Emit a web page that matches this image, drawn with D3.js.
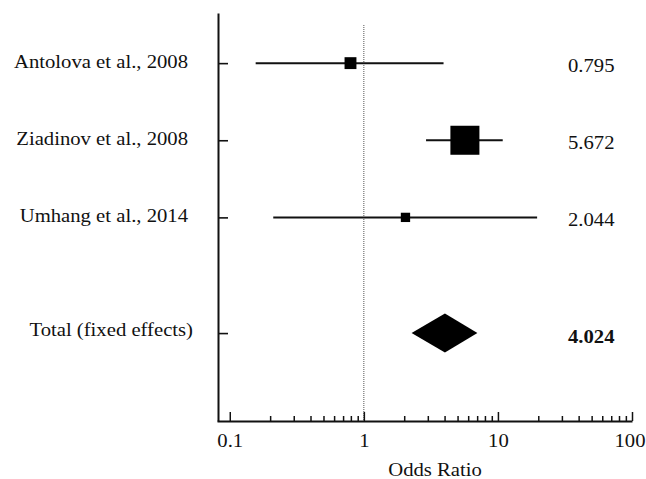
<!DOCTYPE html>
<html>
<head>
<meta charset="utf-8">
<script src="https://cdn.jsdelivr.net/npm/d3@7/dist/d3.min.js"></script>
<style>
  html, body { margin: 0; padding: 0; background: #fff; }
  svg { display: block; }
</style>
</head>
<body>
<svg id="chart" width="646" height="479"></svg>
<script>
// Forest plot: odds ratios with 95% CI per study, plus pooled fixed-effects estimate
const studies   = ["Antolova et al., 2008", "Ziadinov et al., 2008", "Umhang et al., 2014"];
const oddsRatio = [0.795, 5.672, 2.044];
const ciLower   = [0.156, 2.91, 0.211];
const ciUpper   = [3.93, 10.86, 19.6];
const weights   = [13.2, 78.7, 8.1];   // study weights (%)

const summaryLabel = "Total (fixed effects)";
const summaryOR    = 4.024;
const summaryLower = 2.27;
const summaryUpper = 7.03;

const xTickValues  = [0.1, 1, 10, 100];
const xTickLabels  = ["0.1", "1", "10", "100"];
const xMinorValues = [2,3,4,5,6,7,8,9].flatMap(m => [m * 0.1, m, m * 10]);
const xTitle = "Odds Ratio";

const svg = d3.select("#chart");
const FONT = 18, STRETCH = 1.15;
const SERIF = "'Liberation Serif', 'Times New Roman', Times, 'DejaVu Serif', serif";

// Apply the serif face and colour to a text selection
const styleText = sel => sel
  .style("font-family", SERIF)
  .style("font-size", FONT + "px")
  .style("fill", "#111");

// Row positions: one per study, the summary a half row further down
const rowPos = studies.map((d, i) => i + 1);
const summaryPos = studies.length + 1.5;

const x = d3.scaleLog().domain([0.0803, 100]).range([217, 632]);
const y = d3.scaleLinear().domain([0.35, 5.64]).range([13, 421]);
const size = d3.scaleSqrt().domain([0, 100]).range([0, 32.7]);

const yAxisX = 218, xAxisY = 421;

// Reference line at OR = 1
svg.append("line")
  .attr("x1", x(1)).attr("x2", x(1))
  .attr("y1", 25).attr("y2", xAxisY)
  .attr("stroke", "#555").attr("stroke-width", 1)
  .attr("stroke-dasharray", "1,1");

// Y axis (row ticks pointing right)
const yAxis = svg.append("g")
  .attr("transform", `translate(${yAxisX},0)`)
  .call(d3.axisRight(y).tickValues([...rowPos, summaryPos]).tickSize(10).tickSizeOuter(0).tickFormat(""));
yAxis.select(".domain").attr("stroke", "#111").attr("stroke-width", 2);
yAxis.selectAll(".tick line").attr("stroke", "#111").attr("stroke-width", 1.6);

// X axis: major ticks with labels, minor ticks shorter, all pointing up
const xAxis = svg.append("g")
  .attr("transform", `translate(0,${xAxisY})`)
  .call(d3.axisBottom(x).tickValues(xTickValues).tickSizeInner(-9).tickSizeOuter(0)
    .tickFormat((d, i) => xTickLabels[i]));
xAxis.select(".domain").attr("stroke", "#111").attr("stroke-width", 2);
xAxis.selectAll(".tick line").attr("stroke", "#111").attr("stroke-width", 1.5);
xAxis.selectAll(".tick text")
  .attr("y", 0).attr("dy", 0)
  .attr("transform", `translate(0,25.5) scale(${STRETCH},1)`)
  .call(styleText);
// keep the last label inside the right edge
xAxis.selectAll(".tick text").filter(d => d === 100)
  .attr("text-anchor", "end")
  .attr("transform", `translate(${646 - 1 - x(100)},25.5) scale(${STRETCH},1)`);

const xMinor = svg.append("g")
  .attr("transform", `translate(0,${xAxisY})`)
  .call(d3.axisBottom(x).tickValues(xMinorValues).tickSizeInner(-5).tickSizeOuter(0).tickFormat(""));
xMinor.select(".domain").remove();
xMinor.selectAll(".tick line").attr("stroke", "#111").attr("stroke-width", 1.5);

svg.append("text")
  .attr("transform", `translate(435,476) scale(${STRETCH},1)`)
  .attr("text-anchor", "middle")
  .call(styleText)
  .text(xTitle);

// Confidence interval lines
svg.append("g").selectAll("line")
  .data(studies)
  .join("line")
  .attr("x1", (d, i) => x(ciLower[i]))
  .attr("x2", (d, i) => x(ciUpper[i]))
  .attr("y1", (d, i) => y(rowPos[i]))
  .attr("y2", (d, i) => y(rowPos[i]))
  .attr("stroke", "#111").attr("stroke-width", 2);

// Point estimates: squares sized by weight
svg.append("g").selectAll("rect")
  .data(studies)
  .join("rect")
  .attr("x", (d, i) => x(oddsRatio[i]) - size(weights[i]) / 2)
  .attr("y", (d, i) => y(rowPos[i]) - size(weights[i]) / 2)
  .attr("width", (d, i) => size(weights[i]))
  .attr("height", (d, i) => size(weights[i]))
  .attr("fill", "#000");

// Pooled estimate diamond
const ys = y(summaryPos), dh = 19.5;
svg.append("path")
  .attr("d", `M${x(summaryLower)},${ys} L${x(summaryOR)},${ys - dh} L${x(summaryUpper)},${ys} L${x(summaryOR)},${ys + dh} Z`)
  .attr("fill", "#000");

// Study labels (right aligned to the left of the axis)
svg.append("g").selectAll("text")
  .data(studies)
  .join("text")
  .attr("transform", (d, i) => `translate(188,${y(rowPos[i]) + 4.5}) scale(${STRETCH},1)`)
  .attr("text-anchor", "end")
  .call(styleText)
  .text(d => d);

svg.append("text")
  .attr("transform", `translate(193,${ys + 3}) scale(${STRETCH},1)`)
  .attr("text-anchor", "end")
  .call(styleText)
  .text(summaryLabel);

// Odds ratio values on the right
svg.append("g").selectAll("text")
  .data(studies)
  .join("text")
  .attr("transform", (d, i) => `translate(568,${y(rowPos[i]) + 8.5}) scale(${STRETCH},1)`)
  .call(styleText)
  .text((d, i) => oddsRatio[i].toFixed(3));

svg.append("text")
  .attr("transform", `translate(568,${ys + 10}) scale(${STRETCH},1)`)
  .call(styleText)
  .style("font-weight", "bold")
  .text(summaryOR.toFixed(3));
</script>
</body>
</html>
